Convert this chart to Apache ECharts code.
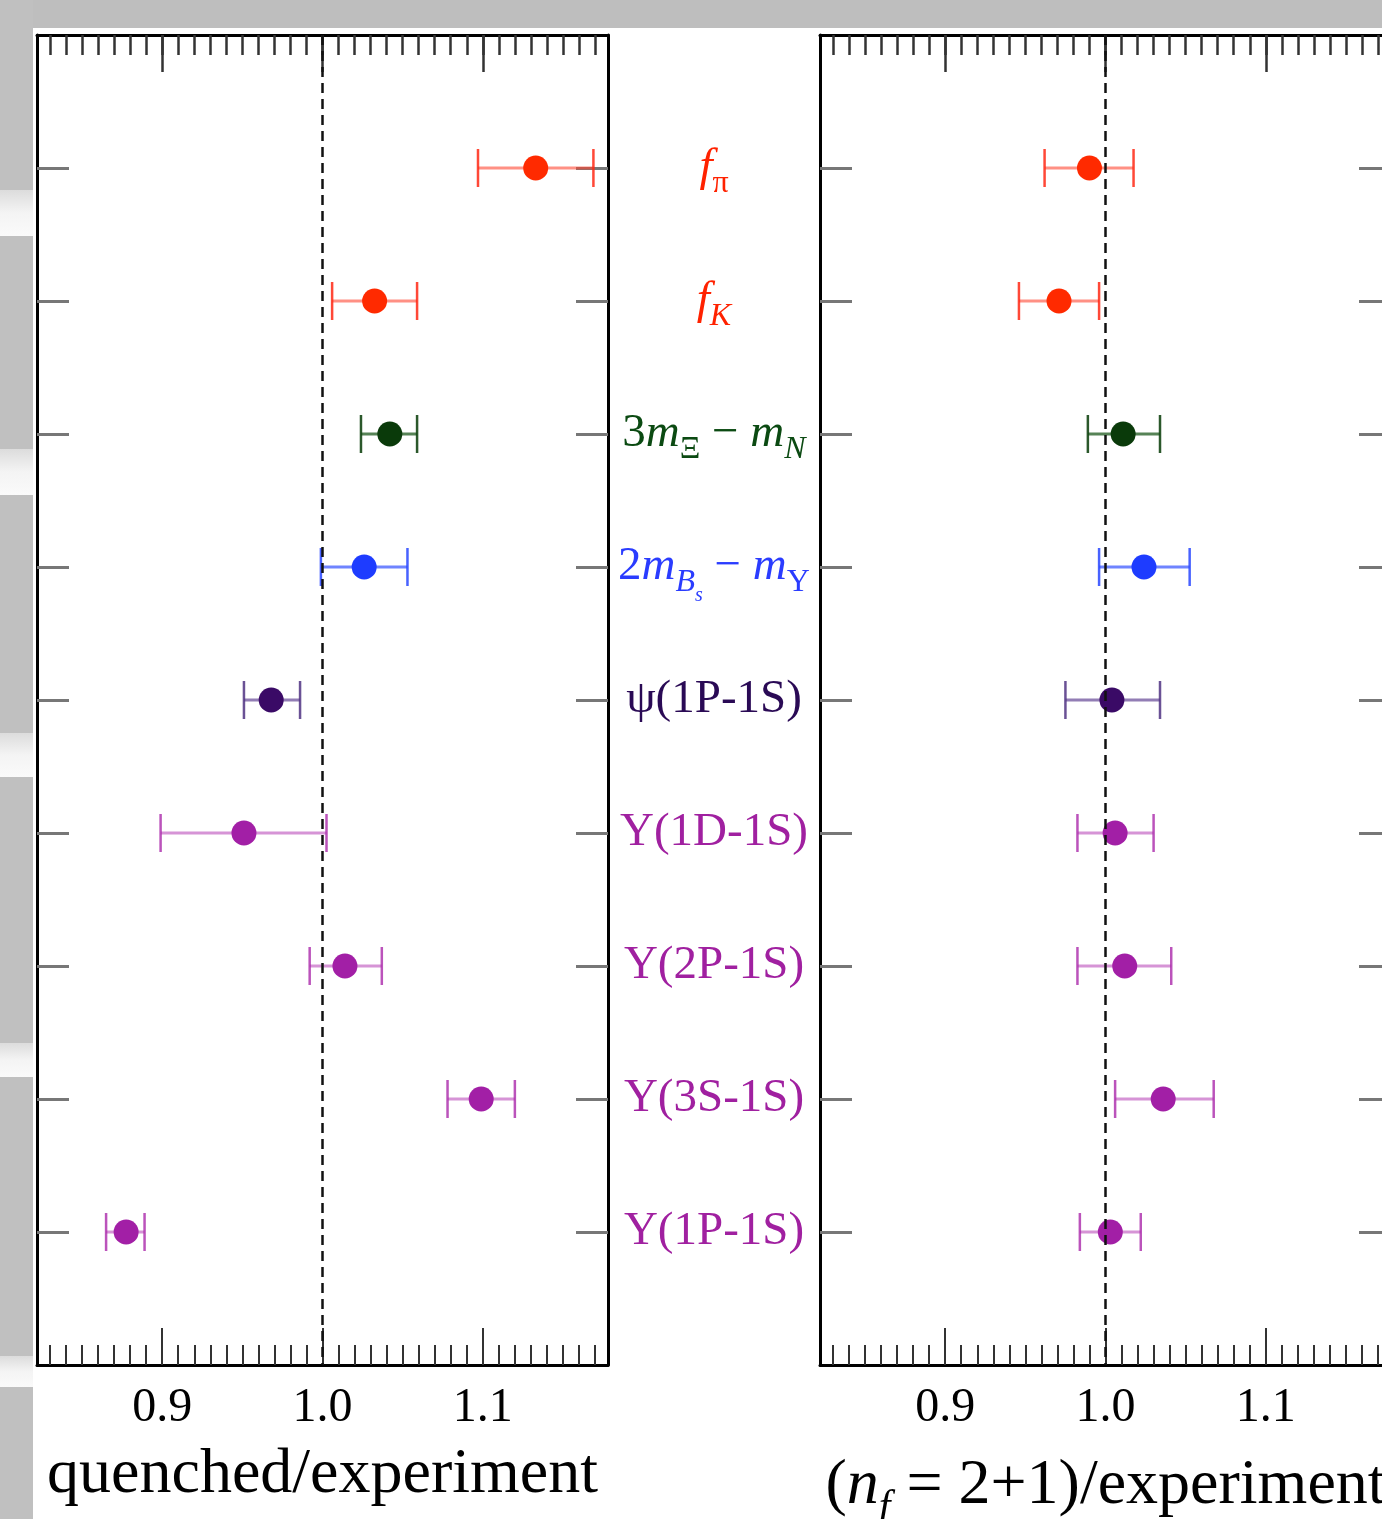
<!DOCTYPE html>
<html><head><meta charset="utf-8">
<script src="https://cdn.jsdelivr.net/npm/echarts@6/dist/echarts.min.js"></script>
<style>html,body{margin:0;padding:0;background:#fff}#c{width:1382px;height:1519px}</style>
</head><body><div id="c"></div>
<script>
// ---------- data ----------
const categories = ['fπ', 'fK', '3mΞ − mN', '2mBs − mΥ', 'ψ(1P-1S)', 'Υ(1D-1S)', 'Υ(2P-1S)', 'Υ(3S-1S)', 'Υ(1P-1S)'];
const categoryMarkup = [
  '{#i|f}{#s|π}',
  '{#i|f}{#si|K}',
  '{#n|3}{#i|m}{#s|Ξ}{#n| − }{#i|m}{#si|N}',
  '{#n|2}{#i|m}{#si|B}{#ss|s}{#n| − }{#i|m}{#s|Υ}',
  '{#n|ψ(1P-1S)}',
  '{#n|Υ(1D-1S)}',
  '{#n|Υ(2P-1S)}',
  '{#n|Υ(3S-1S)}',
  '{#n|Υ(1P-1S)}'
];
const categoryColor = ['r', 'r', 'g', 'b', 'p', 'm', 'm', 'm', 'm'];
const rowPositions = [1, 2, 3, 4, 5, 6, 7, 8, 9];

const quenchedValue = [1.133, 1.0325, 1.042, 1.026, 0.968, 0.951, 1.014, 1.099, 0.8775];
const quenchedLow   = [1.097, 1.006, 1.024, 0.999, 0.951, 0.899, 0.992, 1.078, 0.865];
const quenchedHigh  = [1.169, 1.059, 1.059, 1.053, 0.986, 1.0025, 1.037, 1.120, 0.889];

const fullValue = [0.990, 0.971, 1.011, 1.024, 1.004, 1.006, 1.012, 1.036, 1.003];
const fullLow   = [0.962, 0.946, 0.989, 0.996, 0.975, 0.9825, 0.9825, 1.006, 0.984];
const fullHigh  = [1.0175, 0.996, 1.034, 1.0525, 1.034, 1.030, 1.041, 1.0675, 1.022];

const majorTicks = [0.9, 1.0, 1.1];
const tickLabels = ['0.9', '1.0', '1.1'];
const axisTitles = ['quenched/experiment', '{n|(}{i|n}{s|f}{n| = 2+1)/experiment}'];

// ---------- styling ----------
const SERIF = '"Liberation Serif", "Times New Roman", serif';
const palette = {
  r: {pt: '#ff2a00', bar: 'rgba(255,70,50,0.6)', cap: 'rgba(255,40,20,0.85)', txt: '#ff2200'},
  g: {pt: '#0a3a0a', bar: 'rgba(30,90,30,0.75)', cap: 'rgba(20,70,20,0.9)', txt: '#0b4a12'},
  b: {pt: '#1e3cff', bar: 'rgba(50,80,255,0.7)', cap: 'rgba(40,70,255,0.85)', txt: '#2a3cff'},
  p: {pt: '#3a0a66', bar: 'rgba(100,70,150,0.7)', cap: 'rgba(80,50,130,0.85)', txt: '#2a0a55'},
  m: {pt: '#a21fa6', bar: 'rgba(180,60,180,0.55)', cap: 'rgba(170,40,170,0.8)', txt: '#a020a0'}
};
const XMIN = 0.8219, XMAX = 1.1781;
const minorTicks = [];
for (let i = 83; i <= 117; i++) minorTicks.push(i / 100);

const rich = {};
Object.keys(palette).forEach(k => {
  const c = palette[k].txt;
  rich[k + 'n'] = {fontFamily: SERIF, fontSize: 47, color: c, lineHeight: 58};
  rich[k + 'i'] = {fontFamily: SERIF, fontSize: 47, color: c, lineHeight: 58, fontStyle: 'italic'};
  rich[k + 's'] = {fontFamily: SERIF, fontSize: 32, color: c, padding: [32, 0, 0, 0]};
  rich[k + 'si'] = {fontFamily: SERIF, fontSize: 32, color: c, padding: [32, 0, 0, 0], fontStyle: 'italic'};
  rich[k + 'ss'] = {fontFamily: SERIF, fontSize: 20, color: c, padding: [58, 0, 0, 0], fontStyle: 'italic'};
});

function errRender(params, api) {
  const y = api.value(2);
  const lo = api.coord([api.value(0), y]);
  const hi = api.coord([api.value(1), y]);
  const c = palette[categoryColor[params.dataIndex]];
  const h = 19;
  return {type: 'group', children: [
    {type: 'line', shape: {x1: lo[0], y1: lo[1], x2: hi[0], y2: hi[1]}, style: {stroke: c.bar, lineWidth: 3}},
    {type: 'line', shape: {x1: lo[0], y1: lo[1] - h, x2: lo[0], y2: lo[1] + h}, style: {stroke: c.cap, lineWidth: 2.5}},
    {type: 'line', shape: {x1: hi[0], y1: hi[1] - h, x2: hi[0], y2: hi[1] + h}, style: {stroke: c.cap, lineWidth: 2.5}}
  ]};
}

const grids = [
  {left: 37, top: 35, width: 571, height: 1330, outerBoundsMode: 'none', containLabel: false},
  {left: 820, top: 35, width: 571, height: 1330, outerBoundsMode: 'none', containLabel: false}
];
const xAxes = [], yAxes = [], series = [];
const panels = [
  {value: quenchedValue, low: quenchedLow, high: quenchedHigh},
  {value: fullValue, low: fullLow, high: fullHigh}
];
panels.forEach((pnl, g) => {
  const base = xAxes.length;
  xAxes.push({
    gridIndex: g, type: 'value', min: XMIN, max: XMAX, position: 'bottom',
    axisLine: {onZero: false, lineStyle: {color: '#000', width: 3}},
    axisTick: {inside: true, length: 20, customValues: minorTicks, lineStyle: {color: '#333', width: 2}},
    axisLabel: {customValues: majorTicks, formatter: v => tickLabels[majorTicks.indexOf(v)],
      fontFamily: SERIF, fontSize: 48, color: '#000', margin: 19},
    splitLine: {show: false},
    name: axisTitles[g], nameLocation: 'middle', nameGap: 78,
    nameTextStyle: {fontFamily: SERIF, fontSize: 64, color: '#000', rich: {
      n: {fontFamily: SERIF, fontSize: 64, color: '#000', lineHeight: 74},
      i: {fontFamily: SERIF, fontSize: 64, color: '#000', lineHeight: 74, fontStyle: 'italic'},
      s: {fontFamily: SERIF, fontSize: 42, color: '#000', fontStyle: 'italic', padding: [44, 0, 0, 0]}
    }}
  });
  xAxes.push({
    gridIndex: g, type: 'value', min: XMIN, max: XMAX, position: 'top',
    axisLine: {onZero: false, lineStyle: {color: '#000', width: 3}},
    axisTick: {inside: true, length: 20, customValues: minorTicks, lineStyle: {color: '#333', width: 2.5}},
    axisLabel: {show: false}, splitLine: {show: false}
  });
  xAxes.push({
    gridIndex: g, type: 'value', min: XMIN, max: XMAX, position: 'bottom',
    axisLine: {show: false, onZero: false},
    axisTick: {inside: true, length: 37, customValues: majorTicks, lineStyle: {color: '#333', width: 2}},
    axisLabel: {show: false}, splitLine: {show: false}
  });
  xAxes.push({
    gridIndex: g, type: 'value', min: XMIN, max: XMAX, position: 'top',
    axisLine: {show: false, onZero: false},
    axisTick: {inside: true, length: 37, customValues: majorTicks, lineStyle: {color: '#333', width: 2.5}},
    axisLabel: {show: false}, splitLine: {show: false}
  });
  const yBase = yAxes.length;
  ['left', 'right'].forEach(pos => {
    const ax = {
      gridIndex: g, type: 'value', min: 0, max: 10, inverse: true, position: pos,
      axisLine: {onZero: false, lineStyle: {color: '#000', width: 3}},
      axisTick: {inside: true, length: 32, customValues: rowPositions, lineStyle: {color: '#777', width: 3}},
      axisLabel: {show: false}, splitLine: {show: false}
    };
    if (g === 0 && pos === 'right') {
      ax.axisLabel = {
        show: true, customValues: rowPositions, align: 'center', margin: 106,
        formatter: v => {
          const i = rowPositions.indexOf(v);
          return categoryMarkup[i].replace(/#/g, categoryColor[i]);
        },
        rich: rich
      };
    }
    yAxes.push(ax);
  });
  series.push({
    type: 'custom', xAxisIndex: base, yAxisIndex: yBase, renderItem: errRender,
    encode: {x: [0, 1], y: 2}, z: 3, silent: true,
    data: pnl.low.map((lo, i) => [lo, pnl.high[i], rowPositions[i]])
  });
  series.push({
    type: 'scatter', xAxisIndex: base, yAxisIndex: yBase, symbolSize: 25, z: 4, silent: true,
    data: pnl.value.map((v, i) => ({value: [v, rowPositions[i]],
      itemStyle: {color: palette[categoryColor[i]].pt, opacity: 1}})),
    markLine: {silent: true, symbol: 'none', label: {show: false}, animation: false,
      lineStyle: {type: [10, 6], color: '#111', width: 2.5, opacity: 1}, data: [{xAxis: 1}]}
  });
});

const bands = [[190, 236], [449, 495], [733, 777], [1043, 1077], [1356, 1387]];
const graphic = [
  {type: 'rect', shape: {x: 0, y: 0, width: 1382, height: 28}, style: {fill: '#bebebe'}, silent: true},
  {type: 'rect', shape: {x: 0, y: 0, width: 33, height: 1519}, style: {fill: '#c0c0c0'}, silent: true}
].concat(bands.map(b => ({
  type: 'rect', shape: {x: 0, y: b[0], width: 33, height: b[1] - b[0]}, silent: true,
  style: {fill: new echarts.graphic.LinearGradient(0, 0, 0, 1, [
    {offset: 0, color: '#dcdcdc'}, {offset: 0.5, color: '#f4f4f4'}, {offset: 1, color: '#fafafa'}])}
})));

const chart = echarts.init(document.getElementById('c'), null, {renderer: 'canvas'});
chart.setOption({
  animation: false,
  backgroundColor: '#fff',
  grid: grids,
  xAxis: xAxes,
  yAxis: yAxes,
  series: series,
  graphic: graphic
});
</script></body></html>
